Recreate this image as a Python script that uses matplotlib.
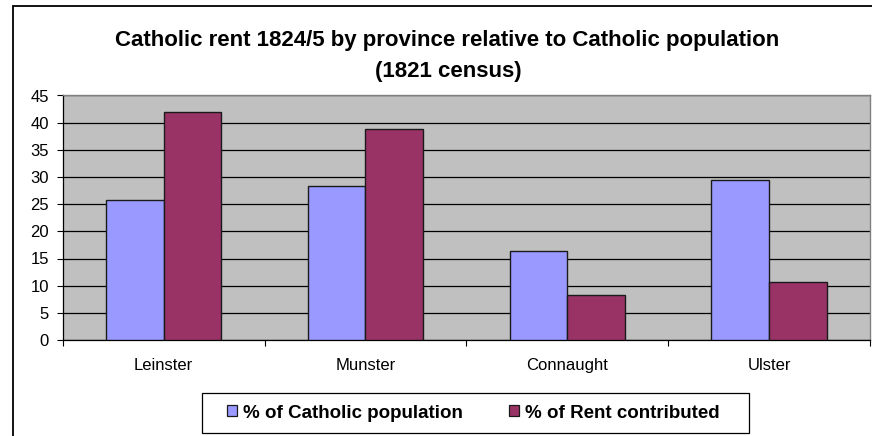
import matplotlib
matplotlib.use("Agg")
import matplotlib.pyplot as plt
from matplotlib.patches import Rectangle, Patch
import numpy as np

plt.rcParams['font.family'] = ['Liberation Sans', 'DejaVu Sans']

provinces = ["Leinster", "Munster", "Connaught", "Ulster"]
catholic_population = [25.8, 28.3, 16.3, 29.4]
rent_contributed = [41.9, 38.9, 8.3, 10.7]
series_names = ["% of Catholic population", "% of Rent contributed"]
yticks = [0, 5, 10, 15, 20, 25, 30, 35, 40, 45]

W, H = 872, 436
fig = plt.figure(figsize=(W / 100, H / 100), dpi=100)
fig.patch.set_facecolor("white")

# outer chart frame
fig.patches.append(Rectangle((12.7 / W, -0.1), 1.2, 1.1 - 6.5 / H, transform=fig.transFigure,
                             fill=False, edgecolor="black", linewidth=1.3, zorder=0))

left, right, top, bottom = 62.7, 870, 95.5, 340
ax = fig.add_axes([left / W, 1 - bottom / H, (right - left) / W, (bottom - top) / H])
ax.set_facecolor("#C0C0C0")

x = np.arange(len(provinces))
bw = 1 / 3.5
ax.bar(x - bw / 2, catholic_population, width=bw, color="#9999FF", edgecolor="#1a1a1a",
       linewidth=1.0, zorder=3, label=series_names[0])
ax.bar(x + bw / 2, rent_contributed, width=bw, color="#993366", edgecolor="#1a1a1a",
       linewidth=1.0, zorder=3, label=series_names[1])

ax.set_xlim(-0.5, len(provinces) - 0.5)
ax.set_ylim(0, 45)
ax.set_yticks(yticks)
ax.yaxis.grid(True, color="black", linewidth=0.9, zorder=1)
ax.set_axisbelow(True)

ax.set_xticks(x)
ax.set_xticklabels(provinces)
ax.set_xticks(np.arange(len(provinces) + 1) - 0.5, minor=True)
ax.tick_params(axis="x", which="major", length=0, pad=13, labelsize=12)
ax.tick_params(axis="x", which="minor", length=4, width=0.8, direction="out", color="black")
ax.tick_params(axis="y", which="major", length=4, width=0.8, direction="out", pad=6, labelsize=12)

for s in ["top", "right"]:
    ax.spines[s].set_color("#808080")
    ax.spines[s].set_linewidth(1.0)
for s in ["left", "bottom"]:
    ax.spines[s].set_color("black")
    ax.spines[s].set_linewidth(0.9)

fig.text(447 / W, 1 - 40.5 / H, "Catholic rent 1824/5 by province relative to Catholic population",
         ha="center", va="center", fontsize=16, fontweight="bold")
fig.text(448 / W, 1 - 72 / H, "(1821 census)", ha="center", va="center",
         fontsize=16, fontweight="bold")

# legend box
fig.patches.append(Rectangle((202 / W, 1 - 433 / H), (749 - 202) / W, 40 / H,
                             transform=fig.transFigure, fill=False, edgecolor="black",
                             linewidth=0.9, zorder=2))
handles = [Patch(facecolor="#9999FF", edgecolor="#1a1a1a", linewidth=0.9),
           Patch(facecolor="#993366", edgecolor="#1a1a1a", linewidth=0.9)]
leg = fig.legend(handles, series_names, loc="center left", ncol=2,
                 bbox_to_anchor=(227 / W, 1 - 413 / H), frameon=False,
                 handlelength=0.53, handleheight=0.53, handletextpad=0.32,
                 columnspacing=2.45, borderpad=0, borderaxespad=0,
                 prop={"weight": "bold", "size": 13.5})

fig.savefig("out.png", dpi=100)
